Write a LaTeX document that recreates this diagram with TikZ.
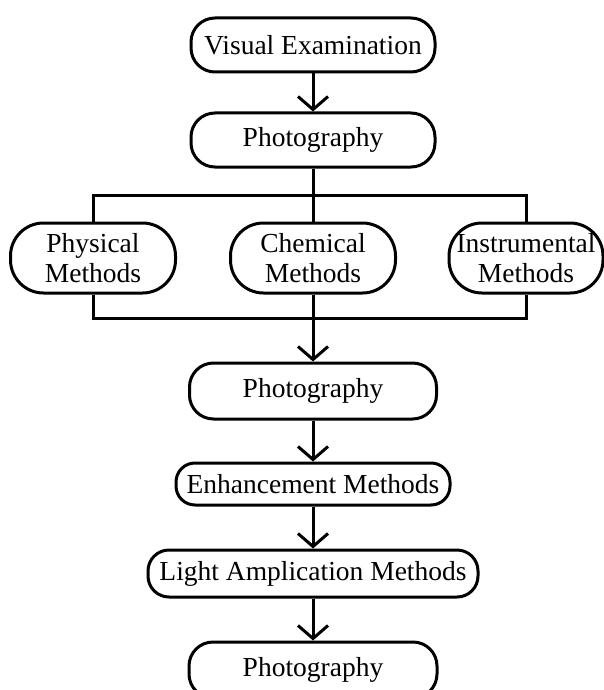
\documentclass[tikz,border=0pt]{standalone}
\usepackage{fontspec}
\setmainfont{Liberation Serif}
\usetikzlibrary{arrows.meta}
\begin{document}
\begin{tikzpicture}[x=1pt, y=-1pt, line width=3pt,
	box/.style={draw, rounded corners=24pt, inner sep=0pt, align=center,
		font=\fontsize{27.5}{30}\selectfont},
	methodbox/.style={box, rounded corners=33pt, minimum width=165pt, minimum height=70pt},
	flow/.style={-{Straight Barb[length=13pt, width=30pt, line width=3pt]}}]
	\useasboundingbox (0,0) rectangle (604,690);

	\draw node[box, minimum width=244pt, minimum height=54pt] at (313, 45) (vis) {Visual Examination};
	\draw node[box, minimum width=244pt, minimum height=54pt] at (313, 140) (ph1) {Photography};
	\draw node[methodbox] at (93, 258) (phys) {Physical\\Methods};
	\draw node[methodbox] at (313, 258) (chem) {Chemical\\Methods};
	\draw node[methodbox, minimum width=154pt] at (526, 258) (inst) {Instrumental\\Methods};
	\draw node[box, minimum width=247pt, minimum height=56pt] at (313, 391) (ph2) {Photography};
	\draw node[box, minimum width=274pt, minimum height=42pt, rounded corners=19pt] at (313, 484) (enh) {Enhancement Methods};
	\draw node[box, minimum width=330pt, minimum height=47pt, rounded corners=21pt] at (313, 573.5) (light) {Light Amplication Methods};
	\draw node[box, minimum width=248pt, minimum height=56pt] at (313, 670) (ph3) {Photography};

	\coordinate (split) at (313, 195);
	\coordinate (join) at (313, 318);

	\draw [flow] (vis) -- (ph1);
	\draw (ph1) -- (split);
	\draw (phys.north) |- (split) -| (inst.north);
	\draw (split) -- (chem.north);
	\draw (phys.south) |- (join) -| (inst.south);
	\draw [flow] (chem) -- (ph2);
	\draw [flow] (ph2) -- (enh);
	\draw [flow] (enh) -- (light);
	\draw [flow] (light) -- (ph3);
\end{tikzpicture}
\end{document}
